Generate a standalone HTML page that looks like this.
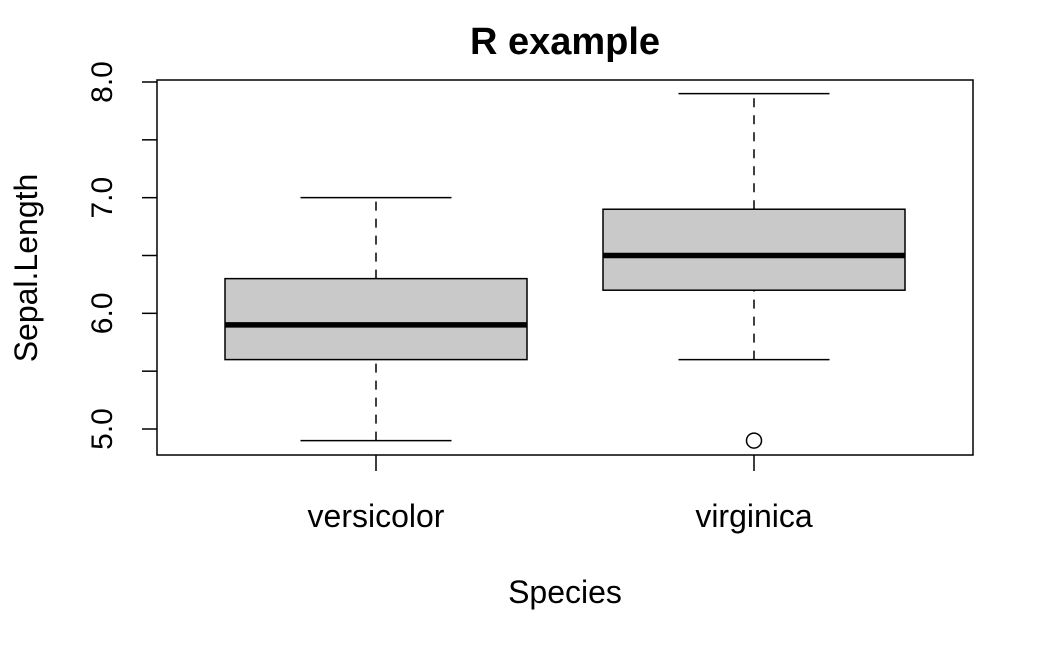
<!DOCTYPE html>
<html><head><meta charset="utf-8"><style>
html,body{margin:0;padding:0;background:#fff;}
svg{display:block;font-family:"Liberation Sans",sans-serif;}
</style></head><body>
<svg id="chart" width="1054" height="651" xmlns="http://www.w3.org/2000/svg">
<text x="565" y="54" text-anchor="middle" font-size="38" font-weight="bold">R example</text>
<rect x="157" y="80" width="816" height="375" fill="none" stroke="#000" stroke-width="1.5"/>
<text x="565" y="603" text-anchor="middle" font-size="32">Species</text>
<text transform="translate(37,268) rotate(-90)" text-anchor="middle" font-size="32">Sepal.Length</text>
<g id="marks"></g>
</svg>
<script>
const categories = ["versicolor", "virginica"];
const whiskerLow = [4.9, 5.6];
const q1 = [5.6, 6.2];
const medians = [5.9, 6.5];
const q3 = [6.3, 6.9];
const whiskerHigh = [7.0, 7.9];
const outliers = [[], [4.9]];
const yTicks = [5.0, 5.5, 6.0, 6.5, 7.0, 7.5, 8.0];
const yLabels = ["5.0", "6.0", "7.0", "8.0"];

const NS = "http://www.w3.org/2000/svg";
const g = document.getElementById("marks");
function y(v){ return 429 - (v - 5.0) * (429 - 82) / 3; }
function x(i){ return 376 + i * 378; }
function el(tag, attrs){ const e = document.createElementNS(NS, tag); for (const k in attrs) e.setAttribute(k, attrs[k]); g.appendChild(e); return e; }

yTicks.forEach(t => {
  const l = el("line", {x1:142, x2:157, y1:y(t), y2:y(t), stroke:"#000", "stroke-width":1.5});
  
  
});
yLabels.forEach(s => {
  const v = parseFloat(s);
  const t = el("text", {transform:`translate(112,${y(v)}) rotate(-90)`, "text-anchor":"middle", "font-size":30});
  t.textContent = s;
  
  
});

categories.forEach((c, i) => {
  const cx = x(i), hw = 151, cw = 75.5;
  const tk = el("line", {x1:cx, x2:cx, y1:455, y2:471, stroke:"#000", "stroke-width":1.5});
  
  
  const lab = el("text", {x:cx, y:527, "text-anchor":"middle", "font-size":32});
  lab.textContent = c;
  
  
  const w1 = el("line", {x1:cx, x2:cx, y1:y(whiskerLow[i]), y2:y(q1[i]), stroke:"#000", "stroke-width":1.5, "stroke-dasharray":"9,8"});
  
  
  const w2 = el("line", {x1:cx, x2:cx, y1:y(q3[i]), y2:y(whiskerHigh[i]), stroke:"#000", "stroke-width":1.5, "stroke-dasharray":"9,8"});
  
  
  const c1 = el("line", {x1:cx-cw, x2:cx+cw, y1:y(whiskerLow[i]), y2:y(whiskerLow[i]), stroke:"#000", "stroke-width":1.5});
  
  
  const c2 = el("line", {x1:cx-cw, x2:cx+cw, y1:y(whiskerHigh[i]), y2:y(whiskerHigh[i]), stroke:"#000", "stroke-width":1.5});
  
  
  const b = el("rect", {x:cx-hw, y:y(q3[i]), width:2*hw, height:y(q1[i])-y(q3[i]), fill:"#c9c9c9", stroke:"#000", "stroke-width":1.5});
  
  
  const m = el("line", {x1:cx-hw, x2:cx+hw, y1:y(medians[i]), y2:y(medians[i]), stroke:"#000", "stroke-width":5.5});
  
  
  outliers[i].forEach(o => {
    const p = el("circle", {cx:cx, cy:y(o), r:7.5, fill:"none", stroke:"#000", "stroke-width":1.5});
    
    
  });
});
</script>
</body></html>
